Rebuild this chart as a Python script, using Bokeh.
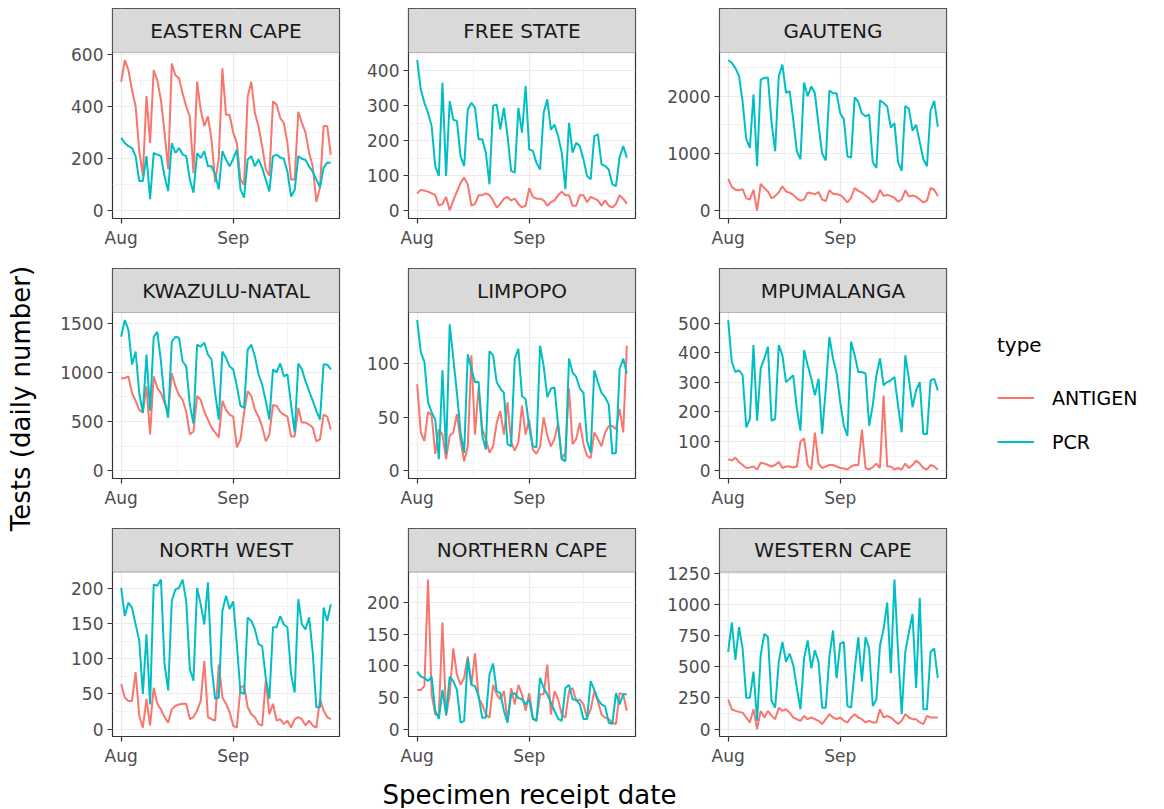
import numpy as np
import pandas as pd
from bokeh.plotting import figure
from bokeh.models import (Range1d, FixedTicker, DatetimeTickFormatter, Label,
                          Legend, LegendItem, BoxAnnotation)
from bokeh.layouts import row, column, Spacer
from bokeh.embed import file_html
from bokeh.resources import INLINE

# ---------------- data ----------------
dates = pd.date_range("2021-08-01", periods=59, freq="D")

provinces = ["EASTERN CAPE", "FREE STATE", "GAUTENG",
             "KWAZULU-NATAL", "LIMPOPO", "MPUMALANGA",
             "NORTH WEST", "NORTHERN CAPE", "WESTERN CAPE"]

ec_antigen = [495, 578, 540, 463, 400, 230, 133, 440, 260, 540, 500, 425, 300, 160, 565,
              520, 508, 450, 400, 360, 145, 495, 387, 325, 362, 273, 110, 200, 546, 368,
              368, 300, 260, 120, 100, 438, 495, 375, 324, 248, 160, 135, 420, 407, 356,
              337, 260, 120, 120, 380, 337, 300, 222, 170, 35, 90, 325, 325, 215]
ec_pcr = [280, 260, 248, 241, 210, 115, 115, 210, 45, 222, 216, 210, 133, 76, 260,
          222, 241, 216, 210, 120, 70, 222, 203, 229, 171, 171, 140, 83, 229, 197,
          171, 200, 235, 83, 51, 197, 210, 171, 197, 165, 120, 75, 210, 215, 205,
          200, 150, 55, 80, 210, 200, 195, 170, 150, 120, 90, 165, 185, 185]

fs_antigen = [50, 60, 58, 55, 50, 45, 15, 20, 40, 2, 30, 55, 80, 95, 75,
              15, 20, 45, 45, 50, 45, 30, 10, 20, 35, 40, 30, 35, 20, 10,
              15, 65, 40, 35, 35, 30, 15, 25, 30, 45, 55, 45, 45, 15, 15,
              45, 45, 25, 40, 35, 30, 15, 30, 15, 10, 20, 45, 35, 20]
fs_pcr = [430, 346, 308, 280, 242, 128, 100, 365, 100, 313, 260, 256, 156, 128, 290,
          308, 294, 204, 204, 166, 76, 300, 303, 232, 294, 213, 114, 109, 294, 223,
          356, 175, 171, 137, 118, 280, 318, 232, 246, 213, 166, 62, 251, 166, 194,
          185, 147, 100, 90, 213, 218, 133, 128, 118, 76, 71, 152, 185, 152]

gp_antigen = [560, 420, 370, 360, 380, 220, 200, 370, 5, 470, 400, 340, 220, 260, 320,
              430, 340, 320, 280, 220, 180, 200, 320, 310, 290, 330, 200, 170, 360, 300,
              290, 280, 220, 150, 230, 400, 350, 320, 270, 220, 150, 200, 370, 260, 280,
              260, 230, 160, 200, 360, 250, 270, 250, 200, 150, 180, 400, 370, 260]
gp_pcr = [2630, 2580, 2490, 2350, 1900, 1250, 1100, 2030, 780, 2290, 2320, 2320, 1540, 1040, 2350,
          2550, 2060, 2090, 1590, 1040, 900, 2240, 2000, 2170, 2050, 1500, 1000, 880, 2100, 2050,
          2050, 1700, 1600, 950, 930, 1980, 1900, 1700, 1650, 1680, 850, 750, 1930, 1880, 1820,
          1450, 1530, 850, 700, 1830, 1780, 1400, 1500, 1200, 900, 780, 1750, 1920, 1470]

kzn_antigen = [940, 940, 960, 790, 710, 620, 590, 860, 370, 960, 840, 790, 690, 600, 990,
               860, 770, 720, 600, 370, 400, 760, 720, 600, 520, 440, 390, 340, 710, 620,
               570, 550, 240, 320, 590, 810, 760, 620, 550, 450, 300, 370, 670, 660, 600,
               570, 550, 350, 350, 640, 490, 490, 470, 440, 300, 320, 570, 550, 420]
kzn_pcr = [1360, 1530, 1430, 1080, 1210, 790, 590, 1180, 610, 1360, 1410, 1110, 720, 540, 1310,
           1360, 1350, 1110, 1060, 670, 480, 1280, 1260, 1300, 1180, 1130, 790, 520, 1210, 1145,
           1060, 1030, 860, 660, 640, 1230, 1280, 1160, 980, 875, 710, 520, 1030, 1000, 1090,
           960, 980, 670, 390, 1090, 1030, 910, 810, 710, 610, 520, 1080, 1080, 1030]

lp_antigen = [81, 36, 28, 55, 52, 16, 39, 34, 11, 33, 36, 53, 28, 9, 23,
              108, 34, 78, 39, 30, 17, 23, 45, 56, 34, 64, 27, 19, 27, 61,
              34, 48, 20, 16, 23, 50, 33, 23, 30, 45, 11, 17, 77, 25, 30,
              45, 25, 14, 12, 36, 30, 23, 36, 42, 42, 39, 58, 36, 117]
lp_pcr = [141, 111, 102, 64, 55, 48, 11, 94, 16, 137, 105, 73, 36, 17, 109,
          95, 83, 83, 33, 20, 112, 108, 83, 77, 73, 25, 23, 105, 114, 70,
          67, 41, 23, 22, 117, 98, 69, 77, 78, 42, 11, 9, 105, 92, 88,
          77, 73, 28, 17, 94, 83, 73, 69, 62, 16, 17, 95, 105, 91]

mp_antigen = [40, 35, 45, 30, 20, 10, 12, 15, 5, 28, 25, 20, 15, 20, 30,
              10, 15, 15, 12, 15, 100, 110, 20, 5, 130, 25, 10, 15, 20, 20,
              15, 10, 8, 5, 15, 20, 20, 140, 10, 5, 12, 25, 10, 255, 15,
              15, 5, 10, 5, 25, 10, 20, 35, 25, 10, 5, 20, 15, 5]
mp_pcr = [511, 369, 335, 341, 324, 148, 176, 426, 170, 347, 381, 420, 170, 176, 426,
          392, 301, 312, 324, 210, 136, 409, 358, 312, 256, 312, 125, 278, 454, 381,
          330, 233, 153, 119, 438, 392, 335, 335, 330, 153, 222, 324, 381, 290, 301,
          307, 318, 222, 131, 392, 312, 216, 273, 301, 125, 125, 307, 312, 273]

nw_antigen = [64, 45, 40, 40, 81, 19, 2, 43, 5, 59, 36, 28, 17, 9, 28,
              33, 35, 36, 36, 14, 17, 26, 40, 97, 17, 14, 12, 92, 45, 36,
              24, 5, 2, 59, 62, 31, 21, 17, 7, 5, 69, 21, 36, 12, 14,
              7, 12, 2, 14, 17, 14, 5, 12, 5, 2, 43, 26, 17, 14]
nw_pcr = [201, 161, 180, 173, 149, 126, 50, 135, 35, 206, 204, 213, 92, 55, 182,
          199, 201, 213, 182, 85, 69, 201, 178, 149, 209, 90, 43, 45, 168, 190,
          171, 182, 121, 52, 50, 159, 154, 142, 121, 118, 73, 43, 145, 145, 161,
          149, 145, 78, 52, 185, 149, 142, 159, 109, 31, 31, 173, 154, 178]

nc_antigen = [62, 62, 68, 237, 55, 23, 23, 169, 21, 55, 128, 86, 70, 81, 115,
              70, 120, 49, 39, 23, 18, 70, 55, 47, 60, 13, 65, 39, 70, 55,
              29, 57, 18, 13, 55, 55, 102, 23, 60, 47, 23, 18, 60, 65, 44,
              47, 39, 18, 31, 60, 44, 23, 18, 16, 10, 8, 57, 55, 29]
nc_pcr = [91, 83, 81, 76, 83, 29, 16, 62, 23, 83, 76, 62, 10, 13, 112,
          70, 68, 52, 18, 18, 86, 104, 60, 57, 29, 10, 55, 57, 49, 47,
          39, 47, 16, 13, 81, 65, 55, 42, 29, 16, 13, 65, 70, 47, 47,
          39, 16, 16, 76, 62, 47, 39, 36, 10, 8, 57, 39, 55, 55]

wc_antigen = [238, 159, 146, 138, 132, 93, 53, 159, 0, 146, 93, 146, 106, 79, 172,
              146, 159, 132, 93, 79, 66, 106, 79, 93, 79, 66, 40, 79, 119, 93,
              79, 93, 66, 53, 93, 119, 93, 79, 53, 66, 53, 53, 159, 93, 106,
              93, 66, 40, 66, 119, 93, 79, 79, 53, 40, 106, 93, 93, 93]
wc_pcr = [622, 860, 556, 820, 648, 251, 251, 463, 66, 595, 767, 741, 225, 172, 542,
          701, 542, 608, 516, 331, 159, 569, 714, 489, 635, 542, 172, 172, 582, 794,
          410, 688, 701, 185, 172, 476, 741, 384, 741, 648, 185, 238, 675, 807, 1019,
          450, 1204, 622, 119, 622, 780, 926, 331, 1058, 159, 159, 622, 648, 410]

antigen_series = [ec_antigen, fs_antigen, gp_antigen, kzn_antigen, lp_antigen,
                  mp_antigen, nw_antigen, nc_antigen, wc_antigen]
pcr_series = [ec_pcr, fs_pcr, gp_pcr, kzn_pcr, lp_pcr, mp_pcr, nw_pcr, nc_pcr, wc_pcr]

y_ticks = [[0, 200, 400, 600], [0, 100, 200, 300, 400], [0, 1000, 2000],
           [0, 500, 1000, 1500], [0, 50, 100], [0, 100, 200, 300, 400, 500],
           [0, 50, 100, 150, 200], [0, 50, 100, 150, 200], [0, 250, 500, 750, 1000, 1250]]

x_tick_dates = ["2021-08-01", "2021-09-01"]
x_minor_dates = ["2021-08-16 12:00", "2021-09-16"]

for s in antigen_series + pcr_series:
    assert len(s) == len(dates)

# ---------------- style / layout ----------------
ANT_COLOR = "#F8766D"
PCR_COLOR = "#00BFC4"
FONT = "DejaVu Sans"
FRAME_W, PANEL_H, STRIP_H = 227, 166, 44
LEFT = [72, 59, 74]
RIGHT = 10
TOP = 8
BOTTOM = [42, 42, 30]
YLAB_W, LEG_W = 40, 200
XL_H = 40


def to_ms(ts):
    return pd.Timestamp(ts).value / 1e6


pad_ms = 2.4 * 86400000
x_start = to_ms(dates[0]) - pad_ms
x_end = to_ms(dates[-1]) + pad_ms


def make_panel(i):
    ri, ci = divmod(i, 3)
    ant, pcr = antigen_series[i], pcr_series[i]
    ymax = max(max(ant), max(pcr))
    y0, y1 = -0.05 * ymax, 1.05 * ymax
    y_top = y1 + STRIP_H / PANEL_H * (y1 - y0)   # room for the facet strip
    p = figure(width=LEFT[ci] + FRAME_W + RIGHT,
               height=TOP + STRIP_H + PANEL_H + BOTTOM[ri],
               x_axis_type="datetime",
               x_range=Range1d(x_start, x_end),
               y_range=Range1d(y0, y_top),
               toolbar_location=None, output_backend="svg", title=None,
               min_border_left=LEFT[ci], min_border_right=RIGHT,
               min_border_top=TOP, min_border_bottom=BOTTOM[ri],
               background_fill_color="white", outline_line_color="#333333",
               outline_line_width=1.2)
    p.line(dates, ant, line_color=ANT_COLOR, line_width=2)
    p.line(dates, pcr, line_color=PCR_COLOR, line_width=2)

    # facet strip
    p.add_layout(BoxAnnotation(bottom=y1, fill_color="#D9D9D9", fill_alpha=1.0,
                               line_color="#333333", line_width=1.2))
    p.add_layout(Label(x=(x_start + x_end) / 2, y=(y1 + y_top) / 2, text=provinces[i],
                       text_align="center", text_baseline="middle", text_font=FONT,
                       text_font_size="20px", text_color="#1A1A1A"))

    p.xaxis.ticker = FixedTicker(ticks=[to_ms(d) for d in x_tick_dates],
                                 minor_ticks=[to_ms(d) for d in x_minor_dates])
    fmt = "%b"
    p.xaxis.formatter = DatetimeTickFormatter(
        microseconds=fmt, milliseconds=fmt, seconds=fmt, minsec=fmt, minutes=fmt,
        hourmin=fmt, hours=fmt, days=fmt, months=fmt, years=fmt)
    yt = y_ticks[i]
    step = yt[1] - yt[0]
    minor = [t + step / 2 for t in yt if t + step / 2 < y1]
    p.yaxis.ticker = FixedTicker(ticks=yt, minor_ticks=minor)

    for ax in p.axis:
        ax.axis_line_color = None
        ax.major_tick_line_color = "#333333"
        ax.major_tick_line_width = 1.2
        ax.major_tick_out = 5
        ax.major_tick_in = 0
        ax.minor_tick_line_color = None
        ax.major_label_text_color = "#4D4D4D"
        ax.major_label_text_font = FONT
        ax.major_label_text_font_size = "17px"
        ax.major_label_standoff = 4
    for g in p.grid:
        g.grid_line_color = "#EBEBEB"
        g.grid_line_width = 1.2
        g.minor_grid_line_color = "#EBEBEB"
        g.minor_grid_line_width = 0.6
    return p


cols = []
for ci in range(3):
    cols.append(column(*[make_panel(ri * 3 + ci) for ri in range(3)], spacing=0))

total_h = 3 * (TOP + STRIP_H + PANEL_H) + sum(BOTTOM)


def blank(w, h):
    f = figure(width=w, height=h, x_range=Range1d(0, 1), y_range=Range1d(0, 1),
               x_axis_location=None, y_axis_location=None, toolbar_location=None,
               output_backend="svg", title=None, min_border=0, outline_line_color=None)
    f.grid.grid_line_color = None
    return f


# y-axis title
yl = blank(YLAB_W, total_h)
yl.add_layout(Label(x=20, y=total_h - 398, x_units="screen", y_units="screen",
                    text="Tests (daily number)", angle=np.pi / 2, text_align="center",
                    text_baseline="middle", text_font=FONT, text_font_size="26px",
                    text_color="black"))

# legend
lg = blank(LEG_W, total_h)
r_ant = lg.line(x=[5, 6], y=[5, 6], line_color=ANT_COLOR, line_width=2)
r_pcr = lg.line(x=[5, 6], y=[5, 6], line_color=PCR_COLOR, line_width=2)
legend = Legend(items=[LegendItem(label="ANTIGEN", renderers=[r_ant]),
                       LegendItem(label="PCR", renderers=[r_pcr])],
                location=(41, total_h - 462), title="type",
                title_text_font=FONT, title_text_font_size="20px",
                title_text_font_style="normal", title_text_color="black",
                label_text_font=FONT, label_text_font_size="19px",
                label_text_color="black",
                glyph_width=37, glyph_height=41, label_height=41, spacing=3,
                padding=0, margin=0, title_standoff=20, label_standoff=18,
                border_line_color=None, background_fill_alpha=0)
lg.add_layout(legend)

# x-axis title
xl_w = sum(LEFT) + 3 * (FRAME_W + RIGHT)
xl = blank(xl_w, XL_H)
xl.add_layout(Label(x=529 - YLAB_W, y=XL_H - 26, x_units="screen", y_units="screen",
                    text="Specimen receipt date", text_align="center",
                    text_baseline="middle", text_font=FONT, text_font_size="26px",
                    text_color="black"))

top = row(yl, *cols, lg, spacing=0)
bottom = row(Spacer(width=YLAB_W, height=XL_H), xl, spacing=0)
layout = column(top, bottom, spacing=0)

open("out.html", "w").write(file_html(layout, INLINE))
